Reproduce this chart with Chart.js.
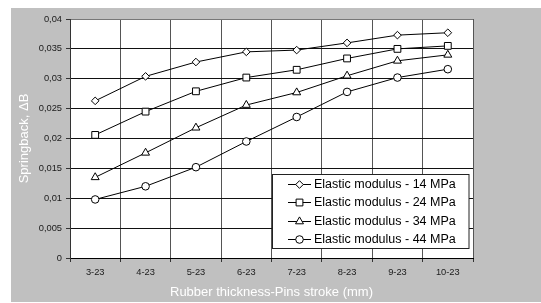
<!DOCTYPE html>
<html><head><meta charset="utf-8">
<script src="https://cdn.jsdelivr.net/npm/chart.js@4/dist/chart.umd.min.js"></script>
<style>html,body{margin:0;padding:0;background:#fff}#wrap{width:541px;height:303px;position:relative}</style>
</head><body><div id="wrap"><canvas id="c" width="541" height="303"></canvas></div>
<script>
const categories = ['3-23','4-23','5-23','6-23','7-23','8-23','9-23','10-23'];
const seriesLabels = ['Elastic modulus - 14 MPa','Elastic modulus - 24 MPa','Elastic modulus - 34 MPa','Elastic modulus - 44 MPa'];
const e14 = [0.0263, 0.0304, 0.0328, 0.0345, 0.0348, 0.0360, 0.0373, 0.0377];
const e24 = [0.0206, 0.0245, 0.0279, 0.0302, 0.0315, 0.0334, 0.0350, 0.0355];
const e34 = [0.0135, 0.0176, 0.0218, 0.0256, 0.0277, 0.0305, 0.0330, 0.0340];
const e44 = [0.0098, 0.0120, 0.0152, 0.0195, 0.0236, 0.0278, 0.0302, 0.0316];
const yTickLabels = ['0','0,005','0,01','0,015','0,02','0,025','0,03','0,035','0,04'];
const xTitle = 'Rubber thickness-Pins stroke (mm)';
const yTitle = 'Springback, \u0394B';

const styles = ['rectRot','rect','triangle','circle'];
const radii = [3.8, 4.8, 4.6, 3.8];
const FONT = "'Liberation Sans', Arial, sans-serif";

const bgPlugin = {
  id: 'bg',
  beforeDraw(chart) {
    const ctx = chart.ctx, a = chart.chartArea;
    ctx.save();
    ctx.fillStyle = '#fff';
    ctx.fillRect(0, 0, chart.width, chart.height);
    ctx.fillStyle = '#c0c0c0';
    ctx.fillRect(11, 8, chart.width - 11, 294);
    ctx.fillStyle = '#fff';
    ctx.fillRect(a.left, a.top, a.right - a.left, a.bottom - a.top);
    ctx.restore();
  }
};

function mark(ctx, style, r, x, y) {
  if (Chart.helpers && Chart.helpers.drawPoint) {
    Chart.helpers.drawPoint(ctx, {pointStyle: style, radius: r, rotation: 0, borderWidth: 1}, x, y);
  }
}

const legendPlugin = {
  id: 'customLegend',
  afterDraw(chart) {
    const ctx = chart.ctx;
    const bx = 272.5, by = 174.5, bw = 196.5, bh = 74;
    ctx.save();
    ctx.fillStyle = '#fff';
    ctx.fillRect(bx, by, bw, bh);
    ctx.strokeStyle = '#222';
    ctx.lineWidth = 1;
    ctx.strokeRect(bx, by, bw, bh);
    chart.data.datasets.forEach((ds, i) => {
      const cy = 184 + i * 18.35;
      ctx.strokeStyle = '#000';
      ctx.lineWidth = 1;
      ctx.beginPath();
      ctx.moveTo(288, Math.round(cy) + 0.5);
      ctx.lineTo(311, Math.round(cy) + 0.5);
      ctx.stroke();
      ctx.fillStyle = '#fff';
      ctx.strokeStyle = '#000';
      mark(ctx, ds.pointStyle, ds.pointRadius, 299.5, Math.round(cy) + 0.5);
      ctx.fillStyle = '#000';
      ctx.font = '12.5px ' + FONT;
      ctx.textBaseline = 'middle';
      ctx.textAlign = 'left';
      ctx.fillText(ds.label, 314, cy + 0.5);
    });
    ctx.restore();
  }
};

const seriesData = [e14, e24, e34, e44];
new Chart(document.getElementById('c'), {
  type: 'line',
  data: {
    labels: categories,
    datasets: seriesData.map((d, i) => ({
      label: seriesLabels[i],
      data: d,
      borderColor: '#000',
      borderWidth: 1,
      backgroundColor: '#fff',
      pointStyle: styles[i],
      pointRadius: radii[i],
      pointBackgroundColor: '#fff',
      pointBorderColor: '#000',
      pointBorderWidth: 1,
      tension: 0,
      fill: false
    }))
  },
  options: {
    responsive: false,
    animation: false,
    devicePixelRatio: 1,
    layout: {padding: {left: 0, top: 19, right: 68, bottom: 0}},
    plugins: {legend: {display: false}, tooltip: {enabled: false}},
    scales: {
      x: {
        type: 'category',
        offset: true,
        grid: {offset: true, color: '#555', lineWidth: 1, tickLength: 4, tickColor: '#333'},
        border: {color: '#000', width: 1},
        ticks: {color: '#1a1a1a', font: {family: FONT, size: 9.3}, padding: 5, maxRotation: 0, autoSkip: false},
        title: {display: true, text: xTitle, color: '#fff', font: {family: FONT, size: 13}, padding: {top: 0, bottom: 3}},
        afterFit(s) { s.height = 45; }
      },
      y: {
        min: 0, max: 0.04,
        ticks: {stepSize: 0.005, color: '#1a1a1a', font: {family: FONT, size: 9.3}, padding: 4,
          callback: (v, i) => yTickLabels[i]},
        grid: {color: (c) => c.index === yTickLabels.length - 1 ? '#777' : '#111', lineWidth: 1, tickLength: 4, tickColor: '#333'},
        border: {color: '#333', width: 1},
        title: {display: true, text: yTitle, color: '#fff', font: {family: FONT, size: 13}, padding: {top: 17, bottom: 0}},
        afterFit(s) { s.width = 70; }
      }
    }
  },
  plugins: [bgPlugin, legendPlugin]
});
</script></body></html>
